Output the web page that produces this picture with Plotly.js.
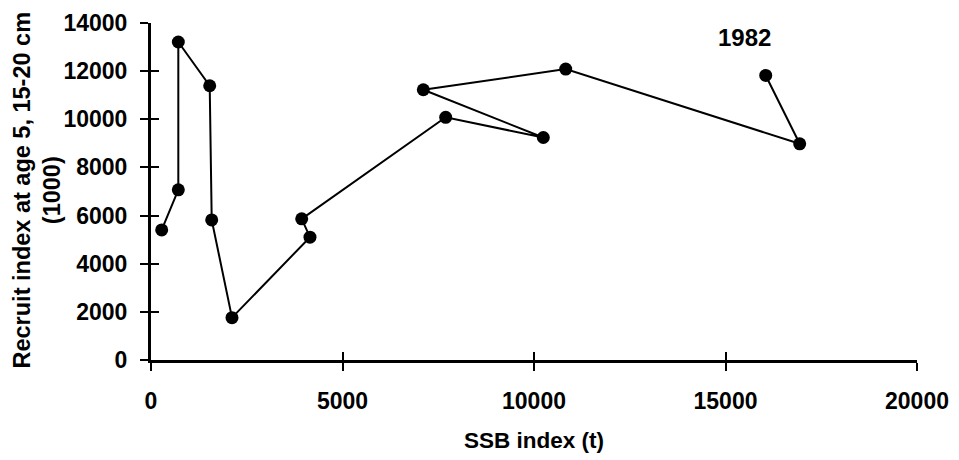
<!DOCTYPE html>
<html>
<head>
<meta charset="utf-8">
<script src="https://cdn.plot.ly/plotly-3.0.1.min.js"></script>
<style>html,body{margin:0;padding:0;background:#fff;}#chart{width:959px;height:460px;}</style>
</head>
<body>
<div id="chart"></div>
<script>
// SSB index (t) and recruit index, in the order the line connects them
const ssb = [279, 713, 713, 1533, 1585, 2115, 4151, 3935, 7694, 10243, 7110, 10828, 16937, 16050];
const recruits = [5405, 7068, 13210, 11393, 5821, 1759, 5102, 5863, 10083, 9243, 11227, 12087, 8981, 11821];
const xTicks = [0, 5000, 10000, 15000, 20000];
const yTicks = [0, 2000, 4000, 6000, 8000, 10000, 12000, 14000];
const labelText = "1982";
const labelPos = {x: 15500, y: 13400};

const FONT = "Arial, 'Liberation Sans', sans-serif";

const trace = {
  x: ssb, y: recruits, type: 'scatter', mode: 'lines+markers',
  line: {color: '#000', width: 2},
  marker: {color: '#000', size: 13},
  showlegend: false, hoverinfo: 'x+y'
};

const layout = {
  width: 959, height: 460,
  margin: {l: 151, r: 42, t: 23, b: 100},
  paper_bgcolor: '#fff', plot_bgcolor: '#fff',
  font: {family: FONT, color: '#000'},
  showlegend: false,
  xaxis: {
    range: [0, 20000], tickvals: xTicks, ticktext: xTicks.map(String),
    showgrid: false, zeroline: false, showline: true, linecolor: '#000', linewidth: 3,
    ticks: 'outside', ticklen: 8, tickwidth: 2, tickcolor: '#000',
    ticklabelstandoff: 10,
    tickfont: {family: FONT, size: 23, color: '#000', weight: 'bold'},
    title: {text: 'SSB index (t)', font: {family: FONT, size: 22.5, color: '#000', weight: 'bold'}, standoff: 20},
    fixedrange: true
  },
  xaxis2: {
    range: [0, 20000], tickvals: xTicks, overlaying: 'x', anchor: 'y', side: 'bottom',
    showgrid: false, zeroline: false, showline: false, showticklabels: false,
    ticks: 'inside', ticklen: 8, tickwidth: 2, tickcolor: '#000', fixedrange: true
  },
  yaxis: {
    range: [0, 14000], tickvals: yTicks, ticktext: yTicks.map(String),
    showgrid: false, zeroline: false, showline: true, linecolor: '#000', linewidth: 3,
    ticks: 'outside', ticklen: 8, tickwidth: 2, tickcolor: '#000',
    ticklabelstandoff: 8,
    tickfont: {family: FONT, size: 23, color: '#000', weight: 'bold'},
    fixedrange: true
  },
  yaxis2: {
    range: [0, 14000], tickvals: yTicks, overlaying: 'y', anchor: 'x', side: 'left',
    showgrid: false, zeroline: false, showline: false, showticklabels: false,
    ticks: 'inside', ticklen: 8, tickwidth: 2, tickcolor: '#000', fixedrange: true
  },
  annotations: [
    {x: labelPos.x, y: labelPos.y, xref: 'x', yref: 'y', text: labelText, showarrow: false,
     font: {family: FONT, size: 24, color: '#000', weight: 'bold'}},
    {x: 0, y: 0.5, xref: 'paper', yref: 'paper', xanchor: 'center', yanchor: 'middle',
     xshift: -114, yshift: 1, text: 'Recruit index at age 5, 15-20 cm<br>(1000)', textangle: -90, showarrow: false,
     font: {family: FONT, size: 23.5, color: '#000', weight: 'bold'}}
  ]
};

const ghostX = {x: [null], y: [null], xaxis: 'x2', yaxis: 'y2', type: 'scatter', showlegend: false, hoverinfo: 'skip'};

Plotly.newPlot('chart', [trace, ghostX], layout, {displayModeBar: false, staticPlot: true});
</script>
</body>
</html>
